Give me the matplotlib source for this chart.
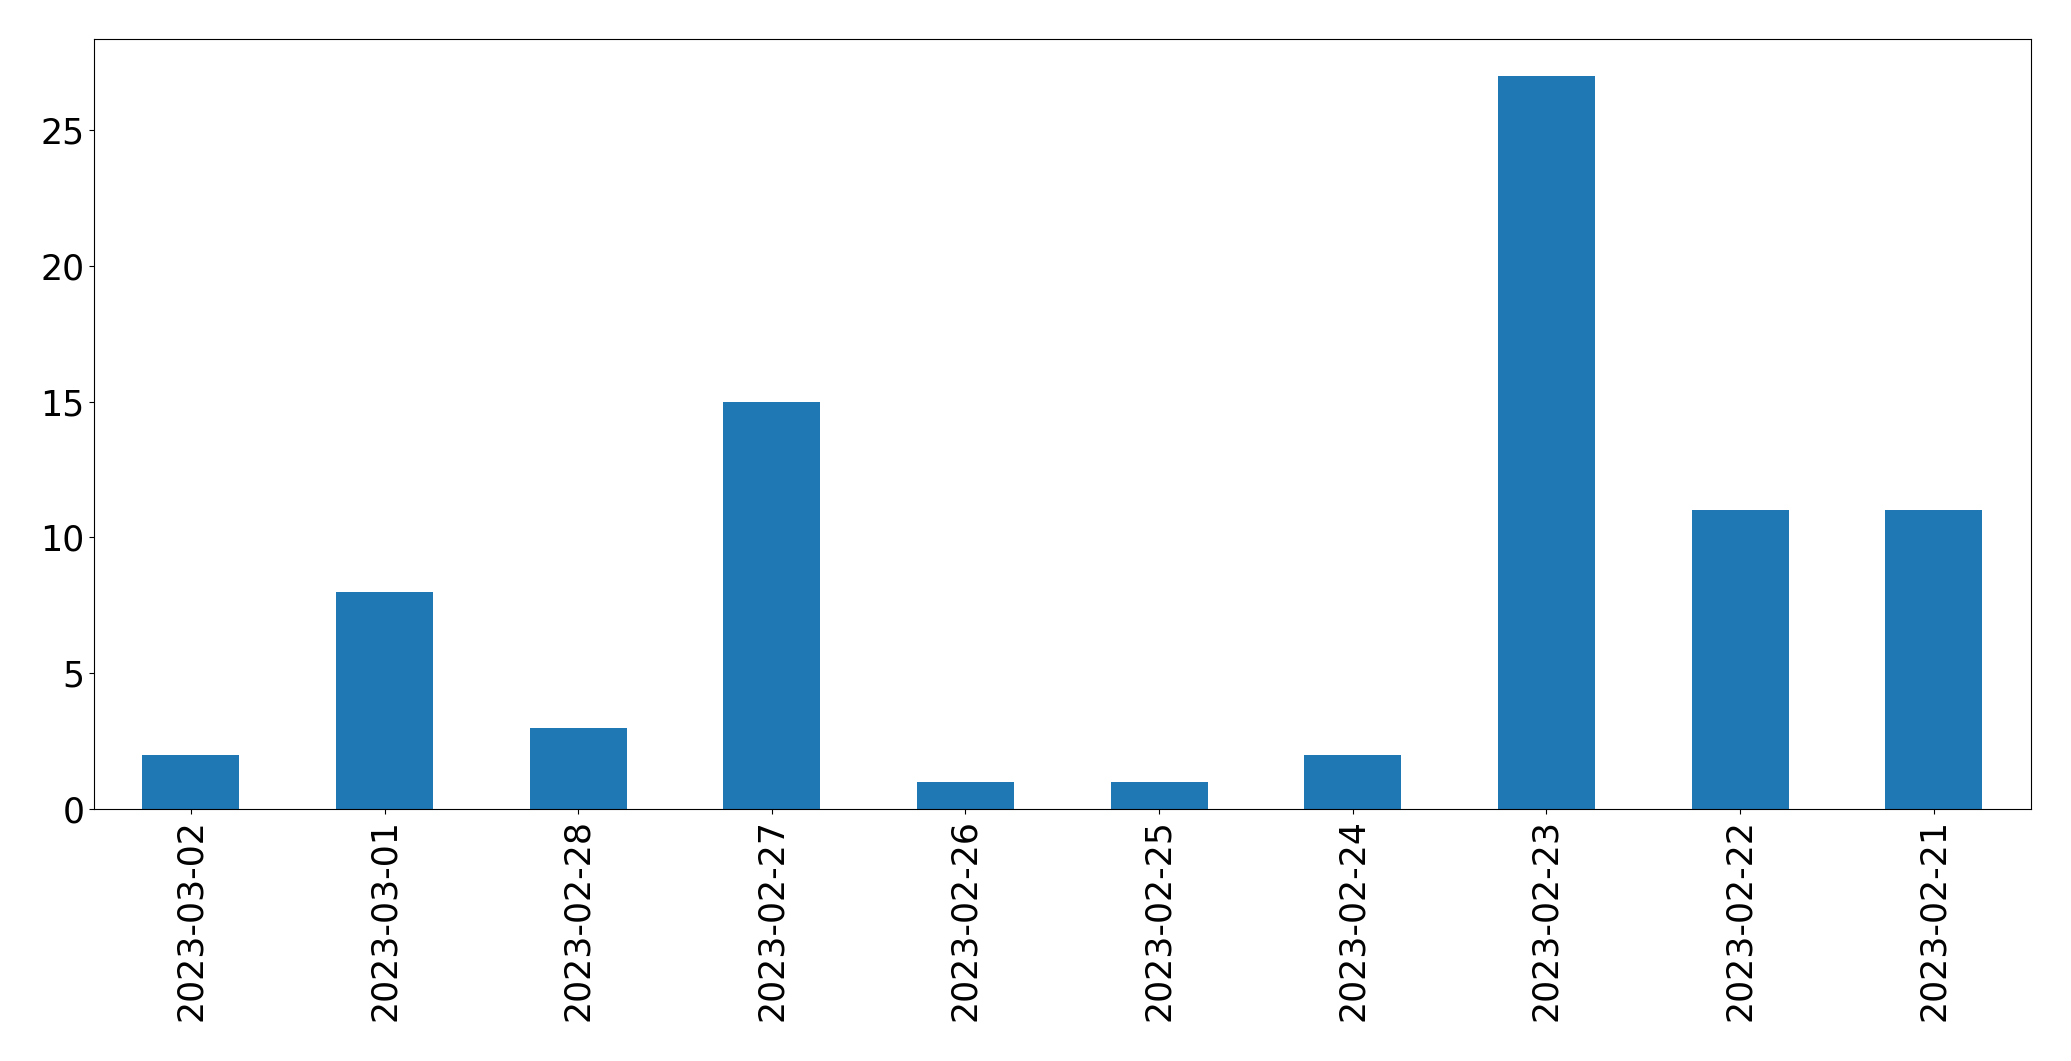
import matplotlib
matplotlib.use("Agg")
import matplotlib.pyplot as plt
import pandas as pd

fechas = ["2023-03-02", "2023-03-01", "2023-02-28", "2023-02-27", "2023-02-26",
          "2023-02-25", "2023-02-24", "2023-02-23", "2023-02-22", "2023-02-21"]
conteos = [2, 8, 3, 15, 1, 1, 2, 27, 11, 11]

serie = pd.Series(conteos, index=fechas)

fig, ax = plt.subplots(figsize=(20.71, 10.61), dpi=100)
serie.plot(kind="bar", ax=ax, color="#1f77b4")
ax.tick_params(axis="both", labelsize=25)
ax.set_xlabel("")
fig.subplots_adjust(left=0.0454, right=0.9805, top=0.963, bottom=0.2375)
plt.savefig("out.png", dpi=100)
